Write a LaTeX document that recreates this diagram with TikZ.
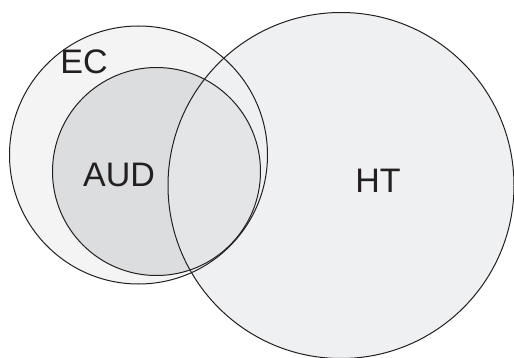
\documentclass[tikz,border=0pt]{standalone}
\usepackage{fontspec}
\setmainfont{Liberation Sans}
\definecolor{ecgray}{HTML}{F4F4F4}
\definecolor{audgray}{HTML}{DCDDDF}
\definecolor{htgray}{HTML}{EFF0F2}
\definecolor{bothgray}{HTML}{E4E5E7}
\definecolor{rim}{HTML}{231F20}
\tikzstyle{setcircle} = [circle, inner sep=0pt, line width=1pt, color=rim]
\tikzstyle{setlabel}  = [font=\fontsize{34}{40}\selectfont, text=rim, inner sep=0pt]

\begin{document}
\begin{tikzpicture}[x=1pt, y=-1pt]
\useasboundingbox (0,0) rectangle (514,358);
% fills first
\node[setcircle, minimum size=258pt, fill=ecgray] (ec) at (138.5,155) {};
\node[setcircle, minimum size=208pt, fill=audgray] (aud) at (156.5,171.5) {};
\node[setcircle, minimum size=346pt, fill=htgray] (ht) at (341,185.5) {};
\begin{scope}
	\clip (aud.center) circle (104pt);
	\fill[bothgray] (ht.center) circle (173pt);
\end{scope}
% outlines on top
\draw[setcircle] (ec.center) circle (129pt);
\draw[setcircle] (aud.center) circle (104pt);
\draw[setcircle] (ht.center) circle (173pt);
\node[setlabel] (eclabel) at (84,62) {EC};
\node[setlabel] (audlabel) at (119,175) {AUD};
\node[setlabel] (htlabel) at (378,181) {HT};
\end{tikzpicture}
\end{document}
